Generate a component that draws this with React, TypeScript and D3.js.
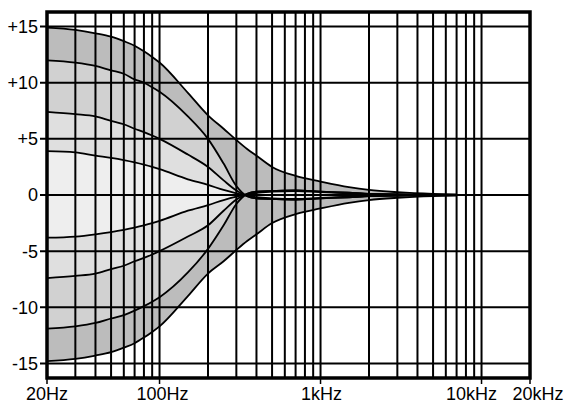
import React, { useEffect, useRef } from 'react';
import * as d3 from 'd3';

// frequencies (Hz) the curves were read at
const freqs = [20, 30, 40, 50, 60, 70, 80, 90, 100, 150, 200, 250, 300, 350, 400, 500, 700, 1000, 1500, 2000, 3000, 5000, 7000];

// boost curves (dB)
const boost15 = [14.9, 14.7, 14.4, 14.1, 13.7, 13.3, 12.8, 12.3, 11.8, 9.1, 7.1, 5.9, 4.9, 4.1, 3.5, 2.5, 1.7, 1.2, 0.7, 0.45, 0.25, 0.1, 0.05];
const boost12 = [12.0, 11.8, 11.5, 11.1, 10.8, 10.3, 10.0, 9.6, 9.2, 7.0, 5.0, 2.8, 0.8, -0.1, -0.3, -0.35, -0.4, -0.3, -0.2, -0.1, -0.05, 0, 0];
const boost7 = [7.4, 7.2, 7.0, 6.6, 6.3, 5.9, 5.6, 5.3, 5.0, 3.6, 2.5, 1.3, 0.4, -0.1, -0.3, -0.35, -0.4, -0.3, -0.2, -0.1, -0.05, 0, 0];
const boost4 = [3.9, 3.8, 3.5, 3.3, 3.1, 2.9, 2.7, 2.5, 2.3, 1.4, 0.9, 0.45, 0.15, -0.05, -0.2, -0.3, -0.35, -0.25, -0.15, -0.1, -0.05, 0, 0];

// cut curves (dB)
const cut15 = [-14.8, -14.6, -14.3, -14.0, -13.6, -13.2, -12.7, -12.2, -11.7, -9.0, -7.0, -5.9, -4.9, -4.1, -3.5, -2.5, -1.7, -1.2, -0.7, -0.45, -0.25, -0.1, -0.05];
const cut12 = [-11.9, -11.7, -11.4, -11.0, -10.7, -10.3, -9.9, -9.5, -9.1, -6.9, -4.8, -2.7, -0.8, 0.1, 0.3, 0.35, 0.4, 0.3, 0.2, 0.1, 0.05, 0, 0];
const cut7 = [-7.4, -7.2, -7.0, -6.6, -6.3, -5.9, -5.6, -5.3, -5.0, -3.7, -2.7, -1.4, -0.4, 0.1, 0.3, 0.35, 0.4, 0.3, 0.2, 0.1, 0.05, 0, 0];
const cut4 = [-3.8, -3.7, -3.5, -3.3, -3.1, -2.9, -2.7, -2.5, -2.3, -1.4, -0.9, -0.45, -0.15, 0.05, 0.2, 0.3, 0.35, 0.25, 0.15, 0.1, 0.05, 0, 0];

const yTicks = [15, 10, 5, 0, -5, -10, -15];
const yTickLabels = ['+15', '+10', '+5', '0', '-5', '-10', '-15'];
const xTicks = [20, 100, 1000, 10000, 20000];
const xTickLabels = ['20Hz', '100Hz', '1kHz', '10kHz', '20kHz'];

const App = () => {
  const ref = useRef<SVGSVGElement>(null);

  useEffect(() => {
    const width = 570;
    const height = 405;
    const left = 47, right = 530, top = 12, bottom = 378;

    const x = d3.scaleLog().domain([20, 20000]).range([left, right]);
    const y = d3.scaleLinear().domain([-16.3, 16.3]).range([bottom, top]);

    const svg = d3.select(ref.current)
      .attr('width', width)
      .attr('height', height);
    svg.selectAll('*').remove();

    const bands = [
      { hi: boost15, lo: cut15, fill: '#bcbcbc' },
      { hi: boost12, lo: cut12, fill: '#d1d1d1' },
      { hi: boost7, lo: cut7, fill: '#dfdfdf' },
      { hi: boost4, lo: cut4, fill: '#eeeeee' },
    ];

    const idx = freqs.map((_, i) => i);

    bands.forEach(b => {
      const area = d3.area<number>()
        .x(i => x(freqs[i]))
        .y0(i => y(b.lo[i]))
        .y1(i => y(b.hi[i]))
        .curve(d3.curveMonotoneX);
      svg.append('path')
        .attr('d', area(idx))
        .attr('fill', b.fill);
    });

    // vertical grid
    const grid = x.ticks().filter(f => f > 20 && f <= 10000);
    svg.append('g').selectAll('line')
      .data(grid)
      .enter().append('line')
      .attr('x1', d => x(d)).attr('x2', d => x(d))
      .attr('y1', top).attr('y2', bottom)
      .attr('stroke', '#000').attr('stroke-width', 2);

    // horizontal grid + y ticks
    svg.append('g').selectAll('line')
      .data(yTicks)
      .enter().append('line')
      .attr('x1', left - 7).attr('x2', right)
      .attr('y1', d => y(d)).attr('y2', d => y(d))
      .attr('stroke', '#000').attr('stroke-width', 2);

    svg.append('g').selectAll('text')
      .data(yTicks)
      .enter().append('text')
      .attr('x', left - 9)
      .attr('y', d => y(d))
      .attr('dy', '0.36em')
      .attr('text-anchor', 'end')
      .attr('font-family', 'Liberation Sans, Arial, sans-serif')
      .attr('font-size', 18)
      .text((d, i) => yTickLabels[i]);

    // x ticks
    svg.append('g').selectAll('line')
      .data(xTicks)
      .enter().append('line')
      .attr('x1', d => x(d)).attr('x2', d => x(d))
      .attr('y1', bottom).attr('y2', bottom + 6)
      .attr('stroke', '#000').attr('stroke-width', 1.5);

    const labelShift = [0, 3, 1, -10, 8];
    svg.append('g').selectAll('text')
      .data(xTicks)
      .enter().append('text')
      .attr('x', (d, i) => x(d) + labelShift[i])
      .attr('y', 400)
      .attr('text-anchor', 'middle')
      .attr('font-family', 'Liberation Sans, Arial, sans-serif')
      .attr('font-size', 18)
      .text((d, i) => xTickLabels[i]);

    // response curves
    [boost15, boost12, boost7, boost4, cut4, cut7, cut12, cut15].forEach(c => {
      const line = d3.line<number>()
        .x(i => x(freqs[i]))
        .y(i => y(c[i]))
        .curve(d3.curveMonotoneX);
      svg.append('path')
        .attr('d', line(idx))
        .attr('fill', 'none')
        .attr('stroke', '#000')
        .attr('stroke-width', 1.8);
    });

    // frame
    svg.append('rect')
      .attr('x', left).attr('y', top)
      .attr('width', right - left).attr('height', bottom - top)
      .attr('fill', 'none')
      .attr('stroke', '#000')
      .attr('stroke-width', 3.5);
  }, []);

  return <svg ref={ref} style={{ position: 'absolute', left: 0, top: 0 }}></svg>;
};

export default App;
